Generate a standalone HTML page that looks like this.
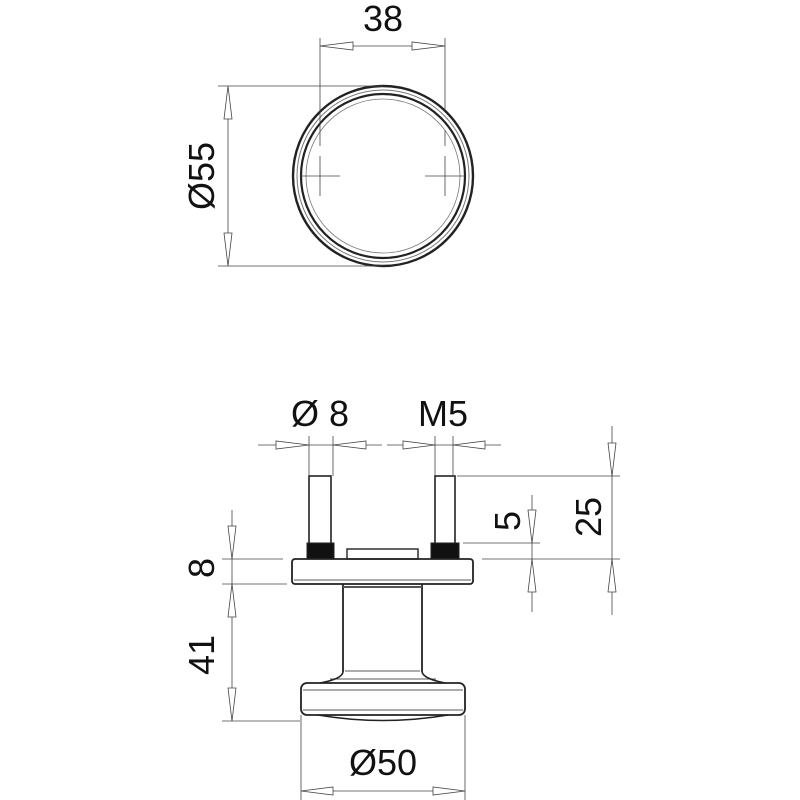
<!DOCTYPE html>
<html><head><meta charset="utf-8"><style>
html,body{margin:0;padding:0;background:#fff;}
svg{display:block;}
text{font-family:"Liberation Sans",sans-serif;fill:#111;font-size:36px;}
</style></head><body>
<svg width="800" height="800" viewBox="0 0 800 800" xmlns="http://www.w3.org/2000/svg">
<g fill="none" stroke="#222">
<!-- Top view -->
<circle cx="383" cy="176" r="90" stroke-width="2.4"/>
<circle cx="383" cy="176" r="86" stroke-width="1" stroke="#777"/>
<circle cx="383" cy="176" r="82" stroke-width="2.2"/>
<circle cx="383" cy="176" r="77" stroke-width="0.8" stroke="#777"/>
<g stroke-width="0.8" stroke="#444">
<line x1="300" y1="176" x2="340" y2="176"/>
<line x1="425" y1="176" x2="465" y2="176"/>
<line x1="320" y1="130" x2="320" y2="146"/><line x1="320" y1="156" x2="320" y2="196"/>
<line x1="445" y1="130" x2="445" y2="146"/><line x1="445" y1="156" x2="445" y2="196"/>
<line x1="320" y1="38" x2="320" y2="130"/>
<line x1="445" y1="38" x2="445" y2="110"/>
<line x1="320" y1="46" x2="445" y2="46"/>
<line x1="218" y1="86" x2="383" y2="86"/>
<line x1="218" y1="266" x2="383" y2="266"/>
<line x1="228" y1="86" x2="228" y2="266"/>
</g>
<g stroke-width="0.8" stroke="#444" fill="#fff">
<polygon points="320,46 353,42 353,50"/>
<polygon points="445,46 412,42 412,50"/>
<polygon points="228,86 224,119 232,119"/>
<polygon points="228,266 224,233 232,233"/>
</g>

<!-- Bottom view -->
<rect x="309" y="476" width="22" height="68" stroke-width="1.6"/>
<rect x="435" y="476" width="20" height="68" stroke-width="1.6"/>
<rect x="307" y="543" width="27" height="16" fill="#111" stroke-width="1"/>
<rect x="431" y="543" width="28" height="16" fill="#111" stroke-width="1"/>
<rect x="347" y="549" width="71" height="10" stroke-width="1.4"/>
<rect x="292" y="559" width="181" height="25" rx="3" stroke-width="1.8"/>
<line x1="294" y1="580" x2="471" y2="580" stroke-width="0.8"/>
<line x1="343" y1="584" x2="343" y2="672" stroke-width="1.8"/>
<line x1="422" y1="584" x2="422" y2="672" stroke-width="1.8"/>
<line x1="343" y1="587" x2="422" y2="587" stroke-width="2" stroke="#555"/>
<line x1="345" y1="671" x2="420" y2="671" stroke-width="0.8"/>
<path d="M343 672 Q342 679 320 683 M422 672 Q424 679 445 683" stroke-width="1.6"/>
<line x1="330" y1="679" x2="436" y2="679" stroke-width="0.8"/>
<rect x="301" y="683" width="164" height="32" rx="6" stroke-width="1.8"/>
<line x1="303" y1="690" x2="463" y2="690" stroke-width="0.8"/>
<line x1="303" y1="710" x2="463" y2="710" stroke-width="0.8"/>
<path d="M318 715 Q383 726 448 715" stroke-width="1.6"/>

<g stroke-width="0.8" stroke="#444">
<line x1="258" y1="445" x2="382" y2="445"/>
<line x1="309" y1="436" x2="309" y2="476"/>
<line x1="333" y1="436" x2="333" y2="476"/>
<line x1="387" y1="445" x2="501" y2="445"/>
<line x1="435" y1="436" x2="435" y2="476"/>
<line x1="453" y1="436" x2="453" y2="476"/>
<line x1="612" y1="426" x2="612" y2="615"/>
<line x1="457" y1="476" x2="620" y2="476"/>
<line x1="482" y1="559" x2="620" y2="559"/>
<line x1="532" y1="495" x2="532" y2="612"/>
<line x1="463" y1="543" x2="540" y2="543"/>
<line x1="232" y1="510" x2="232" y2="721"/>
<line x1="222" y1="559" x2="283" y2="559"/>
<line x1="222" y1="584" x2="287" y2="584"/>
<line x1="222" y1="721" x2="300" y2="721"/>
<line x1="301" y1="715" x2="301" y2="800"/>
<line x1="465" y1="715" x2="465" y2="800"/>
<line x1="301" y1="791" x2="465" y2="791"/>
</g>
<g stroke-width="0.8" stroke="#444" fill="#fff">
<polygon points="309,445 276,441 276,449"/>
<polygon points="333,445 366,441 366,449"/>
<polygon points="435,445 403,441 403,449"/>
<polygon points="453,445 485,441 485,449"/>
<polygon points="612,476 608,443 616,443"/>
<polygon points="612,559 608,592 616,592"/>
<polygon points="532,543 528,510 536,510"/>
<polygon points="532,559 528,592 536,592"/>
<polygon points="232,559 228,526 236,526"/>
<polygon points="232,584 228,617 236,617"/>
<polygon points="232,721 228,688 236,688"/>
<polygon points="301,791 333,787 333,795"/>
<polygon points="465,791 433,787 433,795"/>
</g>
</g>
<text x="383" y="31" text-anchor="middle">38</text>
<text transform="translate(214,176) rotate(-90)" text-anchor="middle">Ø55</text>
<text x="320" y="426" text-anchor="middle">Ø 8</text>
<text x="443" y="426" text-anchor="middle">M5</text>
<text transform="translate(601,517) rotate(-90)" text-anchor="middle">25</text>
<text transform="translate(520,521) rotate(-90)" text-anchor="middle">5</text>
<text transform="translate(214,568) rotate(-90)" text-anchor="middle">8</text>
<text transform="translate(214,655) rotate(-90)" text-anchor="middle">41</text>
<text x="383" y="775" text-anchor="middle">Ø50</text>
</svg>
</body></html>
